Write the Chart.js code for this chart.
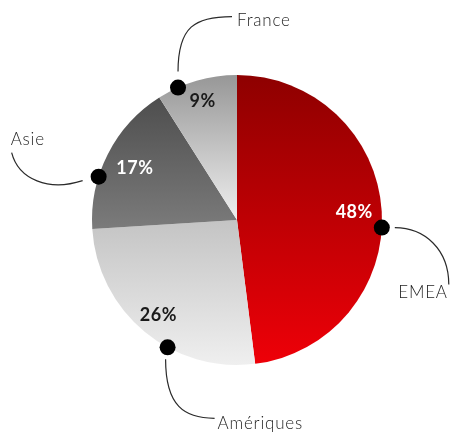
<!DOCTYPE html>
<html>
<head>
<meta charset="utf-8">
<script src="https://cdn.jsdelivr.net/npm/chart.js@4/dist/chart.umd.min.js"></script>
<style>
  html, body { margin: 0; padding: 0; background: #fff; }
</style>
</head>
<body>
<canvas id="kt_pie" width="450" height="432"></canvas>
<script>
// Chart data
var regions = ['EMEA', 'Amériques', 'Asie', 'France'];
var shares = [48, 26, 17, 9];
var percentLabels = ['48%', '26%', '17%', '9%'];

// Slice colors (gradient top -> bottom) and label colors
var sliceColors = [
  ['#8e0000', '#ee0008'],
  ['#c4c4c4', '#efefef'],
  ['#4e4e4e', '#7b7b7b'],
  ['#979797', '#efefef']
];
var percentColors = ['#ffffff', '#1a1a1a', '#ffffff', '#1a1a1a'];

// Callout geometry relative to the dot (style only)
var callouts = [
  { shift: 6.6, label: [[13, 0], [43, 0], [67, 22], [67, 57]], text: [66, 65], align: 'right' },
  { shift: -11, label: [[-2, 12], [-2, 59], [17, 71], [47, 71]], text: [50, 76], align: 'left' },
  { shift: -9.6, label: [[-87, -24], [-80, 3], [-50, 15], [-16, 4]], text: [-88, -37], align: 'left' },
  { shift: -7.8, label: [[0, -16], [0, -61], [17, -71], [54, -71]], text: [59, -67], align: 'left' }
];
var labelRadius = [0.81, 0.85, 0.79, 0.85];

var fontFamily = 'Lato, "DejaVu Sans", sans-serif';

// Vertical gradient spanning each slice's own height
function sliceGradient(context) {
  var chart = context.chart;
  var area = chart.chartArea;
  var i = context.dataIndex;
  if (!area) {
    return sliceColors[i][0];
  }
  var cx = (area.left + area.right) / 2;
  var cy = (area.top + area.bottom) / 2;
  var r = Math.min(area.width, area.height) / 2;
  var total = shares.reduce(function (a, b) { return a + b; }, 0);
  var before = 0;
  for (var k = 0; k < i; k++) before += shares[k];
  var a0 = -Math.PI / 2 + before / total * Math.PI * 2;
  var a1 = a0 + shares[i] / total * Math.PI * 2;
  var ys = [cy, cy + r * Math.sin(a0), cy + r * Math.sin(a1)];
  if (a0 <= Math.PI / 2 && a1 >= Math.PI / 2) ys.push(cy + r);
  if (a0 <= -Math.PI / 2 + 1e-6 || a1 >= Math.PI * 1.5 - 1e-6) ys.push(cy - r);
  var g = chart.ctx.createLinearGradient(0, Math.min.apply(null, ys), 0, Math.max.apply(null, ys));
  g.addColorStop(0, sliceColors[i][0]);
  g.addColorStop(1, sliceColors[i][1]);
  return g;
}

// Labels, dots and leader lines
var calloutPlugin = {
  id: 'callouts',
  afterDatasetsDraw: function (chart) {
    var ctx = chart.ctx;
    var meta = chart.getDatasetMeta(0);
    meta.data.forEach(function (arc, i) {
      var mid = (arc.startAngle + arc.endAngle) / 2;
      var R = arc.outerRadius;

      // percentage
      ctx.save();
      ctx.font = 'bold 18px ' + fontFamily;
      ctx.letterSpacing = '0.5px';
      ctx.fillStyle = percentColors[i];
      ctx.textAlign = 'center';
      ctx.textBaseline = 'middle';
      ctx.fillText(percentLabels[i], arc.x + Math.cos(mid) * R * labelRadius[i], arc.y + Math.sin(mid) * R * labelRadius[i]);
      ctx.restore();

      // dot
      var c = callouts[i];
      var a = mid + c.shift * Math.PI / 180;
      var dx = arc.x + Math.cos(a) * R;
      var dy = arc.y + Math.sin(a) * R;
      ctx.save();
      ctx.beginPath();
      ctx.arc(dx, dy, 8, 0, Math.PI * 2);
      ctx.fillStyle = '#000';
      ctx.fill();

      // leader line
      var p = c.label;
      ctx.beginPath();
      ctx.moveTo(dx + p[0][0], dy + p[0][1]);
      ctx.bezierCurveTo(dx + p[1][0], dy + p[1][1], dx + p[2][0], dy + p[2][1], dx + p[3][0], dy + p[3][1]);
      ctx.strokeStyle = '#2a2a2a';
      ctx.lineWidth = 1.2;
      ctx.stroke();

      // region name
      ctx.font = '300 17px ' + fontFamily;
      ctx.letterSpacing = '0.8px';
      ctx.fillStyle = '#1e1e1e';
      ctx.textAlign = c.align;
      ctx.textBaseline = 'middle';
      ctx.fillText(regions[i], dx + c.text[0], dy + c.text[1]);
      ctx.restore();
    });
  }
};

var ctx = document.getElementById('kt_pie');

var config = {
  type: 'pie',
  data: {
    labels: regions,
    datasets: [{
      data: shares,
      backgroundColor: sliceGradient,
      borderWidth: 0
    }]
  },
  options: {
    responsive: false,
    animation: false,
    layout: {
      padding: { left: 92, right: 68, top: 75, bottom: 67 }
    },
    plugins: {
      legend: { display: false },
      tooltip: { enabled: false }
    }
  },
  plugins: [calloutPlugin]
};

var myChart = new Chart(ctx, config);
</script>
</body>
</html>
